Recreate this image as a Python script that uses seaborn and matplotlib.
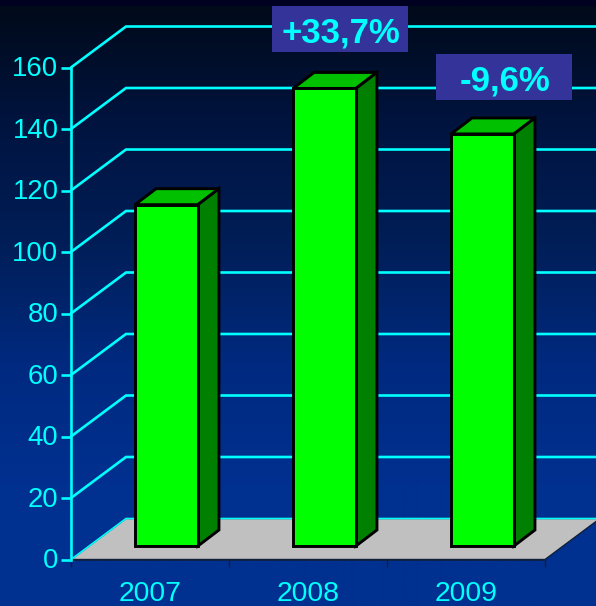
import numpy as np
import pandas as pd
import matplotlib
matplotlib.use("Agg")
import matplotlib.pyplot as plt
from matplotlib.colors import LinearSegmentedColormap
from matplotlib.patches import Polygon, Rectangle
from matplotlib.transforms import ScaledTranslation
import seaborn as sns

# Chart data
years = ["2007", "2008", "2009"]
values = [111.0, 148.8, 134.0]
y_ticks = [0, 20, 40, 60, 80, 100, 120, 140, 160]
changes = ["+33,7%", "-9,6%"]

CYAN = "#00FFFF"
W, H = 596, 606

sns.set_theme(style="ticks", font="Liberation Sans")
plt.rcParams["font.family"] = ["Liberation Sans", "DejaVu Sans"]

fig = plt.figure(figsize=(W / 100, H / 100), dpi=100)
fig.patch.set_facecolor("#000020")

# Vertical navy-to-blue backdrop
bg = fig.add_axes([0, 0, 1, 1 - 6 / H], zorder=-1)
cmap = LinearSegmentedColormap.from_list(
    "backdrop", ["#000A1A", "#001440", "#001E58", "#002A80", "#003090", "#003090"])
bg.imshow(np.linspace(0, 1, 400)[:, None], aspect="auto", cmap=cmap, vmin=0, vmax=1)
bg.axis("off")

# Main axes: the front plane of the chart
ax = fig.add_axes([71 / W, 1 - 559.5 / H, 474 / W, 492 / H], zorder=1)
ax.patch.set_alpha(0)

frame = pd.DataFrame({"year": years, "value": values})
sns.barplot(data=frame, x="year", y="value", ax=ax, width=0.398, color="#00FF00",
            saturation=1, edgecolor="black", linewidth=2.1, zorder=4, clip_on=False)
ax.set_xlim(-0.5, 2.5)
ax.set_ylim(0, 160)
ax.set_xlabel("")
ax.set_ylabel("")

# Oblique projection in data units
px_x = 3 / 474
px_y = 160 / 492
depth_x, depth_y = 55 * px_x, 41 * px_y
bar_dx, bar_dy = 21 * px_x, 16 * px_y
shift_x, base = 16.5 * px_x, 13.5 * px_y

# Floor
ax.add_patch(Polygon([(-0.5, 0), (-0.5 + depth_x, depth_y), (2.5 + depth_x, depth_y), (2.5, 0)],
                     closed=True, facecolor="#C0C0C0", edgecolor="#10203A", linewidth=1.0,
                     zorder=1.5, clip_on=False))

# Gridlines run along the side wall and then across the back wall
for t in y_ticks:
    ax.plot([-0.5, -0.5 + depth_x, 2.5 + depth_x], [t, t + depth_y, t + depth_y],
            color=CYAN, lw=1.9 if t else 1.2, zorder=2, clip_on=False,
            solid_joinstyle="miter")

# Bars stand on the floor, each with a top and a side face
for bar, val in zip(ax.patches[:len(years)], values):
    bar.set_x(bar.get_x() + shift_x)
    bar.set_y(base)
    bar.set_height(val)
    bar.set_joinstyle("miter")
    x0, x1 = bar.get_x(), bar.get_x() + bar.get_width()
    y0, y1 = base, base + val
    ax.add_patch(Polygon([(x0, y1), (x0 + bar_dx, y1 + bar_dy), (x1 + bar_dx, y1 + bar_dy), (x1, y1)],
                         closed=True, facecolor="#00C000", edgecolor="black", linewidth=2.1,
                         joinstyle="miter", zorder=3.5, clip_on=False))
    ax.add_patch(Polygon([(x1, y0), (x1 + bar_dx, y0 + bar_dy), (x1 + bar_dx, y1 + bar_dy), (x1, y1)],
                         closed=True, facecolor="#008000", edgecolor="black", linewidth=2.1,
                         joinstyle="miter", zorder=3.5, clip_on=False))

# Axes styling
sns.despine(ax=ax, top=True, right=True)
ax.spines["left"].set_color(CYAN)
ax.spines["left"].set_linewidth(1.9)
ax.spines["left"].set_zorder(3)
ax.spines["bottom"].set_color("#10203A")
ax.spines["bottom"].set_linewidth(1.1)
ax.set_yticks(y_ticks)
ax.set_yticklabels([str(t) for t in y_ticks])
ax.tick_params(axis="y", length=7, width=1.9, color=CYAN, labelcolor=CYAN,
               labelsize=19.8, pad=2)
nudge = ScaledTranslation(0, 1 / 72, fig.dpi_scale_trans)
for lab in ax.get_yticklabels():
    lab.set_transform(lab.get_transform() + nudge)
ax.set_xticks(range(len(years)))
ax.set_xticklabels(years)
ax.tick_params(axis="x", which="major", length=0, labelcolor=CYAN, labelsize=20.4, pad=15.5)
ax.set_xticks([-0.5, 0.5, 1.5, 2.5], minor=True)
ax.tick_params(axis="x", which="minor", length=5, width=1.0, color="#10203A")

# Year-on-year change badges
for label, (bx, by) in zip(changes, [(272, 6), (436, 54)]):
    fig.add_artist(Rectangle((bx / W, 1 - (by + 46) / H), 136 / W, 46 / H,
                             transform=fig.transFigure, facecolor="#333399",
                             edgecolor="none", zorder=5))
    fig.text((bx + 69) / W, 1 - (by + 27.5) / H, label, color=CYAN, fontsize=25,
             fontweight="bold", ha="center", va="center", zorder=6)

fig.savefig("out.png", dpi=100, facecolor=fig.get_facecolor())
